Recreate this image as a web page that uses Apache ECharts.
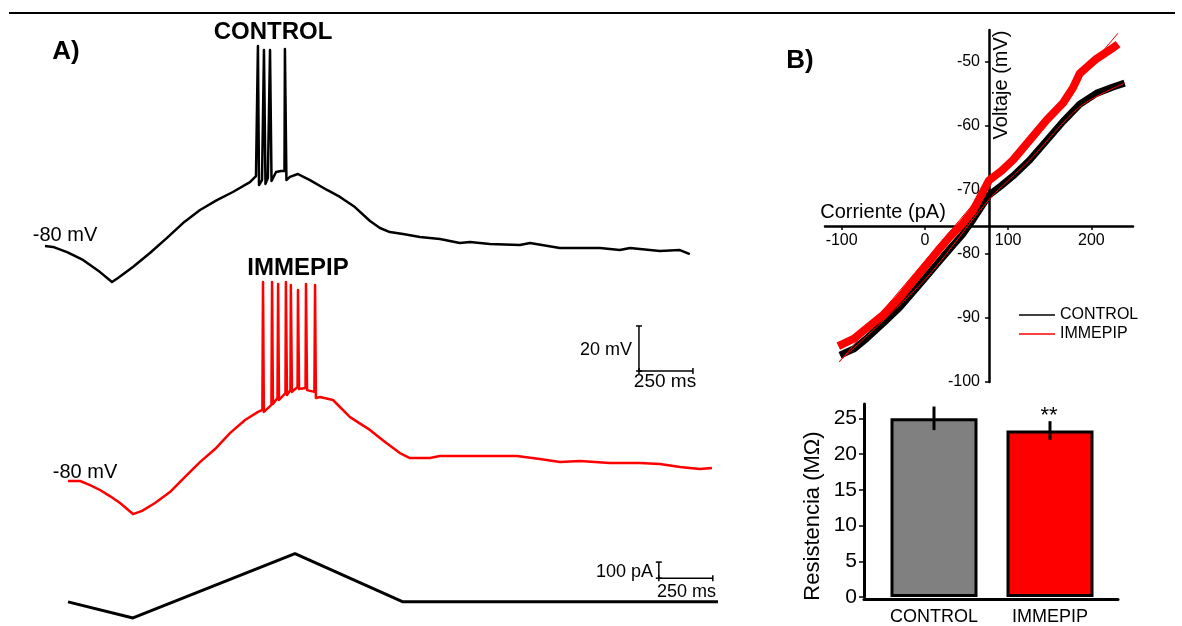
<!DOCTYPE html>
<html>
<head>
<meta charset="utf-8">
<script src="https://cdn.jsdelivr.net/npm/echarts@6/dist/echarts.min.js"></script>
<style>html,body{margin:0;padding:0;background:#fff}#main{width:1182px;height:626px}</style>
</head>
<body>
<div id="main"></div>
<script>
// A) registros: [tiempo ms, voltaje mV]
var controlTrace = [
    [0,-80.0],[37,-80.4],[102,-82.7],[176,-86.2],[255,-91.6],[310,-96.0],[338,-94.2],[407,-89.3],[486,-83.1],
    [565,-76.4],[639,-69.8],[718,-64.0],[796,-59.6],[870,-56.0],[949,-51.6],[977,-48.9],
    [984,-49.3],[986,8.9],[991,-52.9],[1005,-50.7],[1012,-50.4],[1014,7.1],[1021,-52.4],[1032,-49.8],
    [1039,-49.8],[1042,7.1],[1049,-51.1],[1070,-47.1],[1093,-46.7],[1109,-46.7],[1111,7.6],[1118,-50.7],
    [1134,-49.3],[1171,-48.0],[1190,-48.9],[1227,-50.7],[1306,-55.1],[1366,-58.2],[1435,-62.7],[1505,-68.9],
    [1551,-72.0],[1597,-73.8],[1658,-74.7],[1736,-76.0],[1829,-76.9],[1921,-78.7],[1968,-78.2],[2060,-79.1],
    [2199,-79.6],[2246,-78.7],[2384,-80.9],[2570,-80.9],[2662,-81.8],[2709,-80.9],[2847,-82.2],[2940,-81.8],[2986,-83.6]
];
var immepipTrace = [
    [0,-80.0],[56,-80.0],[102,-81.8],[148,-84.0],[194,-86.7],[241,-89.8],[301,-94.7],[343,-93.3],[403,-89.8],
    [472,-84.9],[542,-78.2],[611,-71.6],[681,-65.8],[750,-58.7],[820,-52.9],[880,-49.3],
    [900,-48.4],[903,8.4],[907,-49.3],[926,-47.6],[942,-46.2],[945,8.4],[949,-45.8],[970,-43.1],[973,7.6],
    [977,-44.0],[1007,-40.9],[1009,8.4],[1014,-41.8],[1030,-39.6],[1032,7.1],[1037,-40.4],[1063,-38.2],
    [1065,4.9],[1070,-39.1],[1100,-38.7],[1102,7.6],[1107,-39.6],[1141,-40.4],[1144,7.1],[1148,-43.1],
    [1167,-42.7],[1227,-44.0],[1306,-51.6],[1398,-57.3],[1468,-62.7],[1537,-67.6],[1583,-69.8],[1676,-69.8],
    [1722,-68.9],[1908,-68.9],[2079,-68.9],[2185,-70.2],[2278,-71.6],[2371,-71.1],[2509,-72.0],[2648,-72.0],
    [2741,-72.4],[2834,-73.8],[2926,-74.7],[2982,-74.2]
];
// rampa de corriente [ms, pA]
var rampCurrent = [[0,0],[301,-100],[1051,300],[1551,0],[3010,0]];

// barras de escala: origen y longitudes
var scaleVolt = {t: 2644, v: -31.1, dt: 250, dv: 20};
var scaleCurr = {t: 2736, v: 147, dt: 250, dv: 100};

// B) curva I-V [pA, mV]
var ivControl = [
    [-102,-95.8],[-85,-94.8],[-70,-93.2],[-50,-90.8],[-30,-88.3],[-10,-85.3],[0,-83.8],[15,-81.5],[30,-79.2],
    [45,-77.0],[58,-74.6],[77,-70.8],[92,-69.3],[106,-67.8],[126,-65.3],[146,-62.3],[166,-59.3],[186,-56.6],
    [206,-54.9],[226,-53.9],[240,-53.3]
];
var ivImmepip = [
    [-104,-94.4],[-85,-93.2],[-70,-91.6],[-50,-89.5],[-30,-86.8],[-10,-83.6],[0,-82.0],[15,-79.6],[30,-77.3],
    [45,-75.3],[58,-73.2],[77,-68.5],[92,-67.0],[106,-65.3],[126,-62.2],[146,-59.1],[166,-56.4],[178,-54.0],
    [186,-51.8],[206,-49.5],[226,-47.8],[232,-47.2]
];
var fitControl = [[-103,-96.8],[0,-84.0],[77,-71.5],[126,-65.3],[186,-57.0],[240,-53.3]];
var fitImmepip = [[-103,-96.9],[232,-45.5]];
var ivXTicks = [-100, 0, 100, 200];
var ivYTicks = [-100, -90, -80, -70, -60, -50];

// resistencia de entrada (MOhm)
var groups = ['CONTROL', 'IMMEPIP'];
var resist = [25.0, 23.3];
var resistErr = [1.65, 1.3];
var resTicks = [0, 5, 10, 15, 20, 25];

var FONT = "'Liberation Sans', Arial, sans-serif";
var barColors = ['#808080', '#ff0000'];

function scaleBar(s, grid, capV, capH) {
    return [{
        type: 'line', xAxisIndex: grid, yAxisIndex: grid, silent: true, clip: false,
        data: [[s.t, s.v], [s.t, s.v + s.dv]],
        symbol: 'rect', symbolSize: capV, itemStyle: {color: '#000'},
        lineStyle: {color: '#000', width: 1.5}
    }, {
        type: 'line', xAxisIndex: grid, yAxisIndex: grid, silent: true, clip: false,
        data: [[s.t, s.v], [s.t + s.dt, s.v]],
        symbol: 'rect', symbolSize: capH, itemStyle: {color: '#000'},
        lineStyle: {color: '#000', width: 1.5}
    }];
}

function label(x, y, text, size, extra) {
    var el = {
        type: 'text', x: x, y: y, silent: true,
        style: {text: text, fill: '#000', font: size + 'px ' + FONT, align: 'center', verticalAlign: 'middle'}
    };
    if (extra) {
        for (var k in extra) {
            if (k === 'rotation') el.rotation = extra[k];
            else el.style[k] = extra[k];
        }
    }
    return el;
}

var hiddenX = function (g, max) { return {gridIndex: g, type: 'value', min: 0, max: max, show: false}; };
var hiddenY = function (g, min, max) { return {gridIndex: g, type: 'value', min: min, max: max, show: false}; };

var myChart = echarts.init(document.getElementById('main'));
var option = {
    animation: false,
    backgroundColor: '#fff',
    textStyle: {fontFamily: FONT},
    grid: [
        {left: 45, top: 21, width: 650, height: 270},
        {left: 68, top: 256, width: 650, height: 270},
        {left: 68, top: 545.5, width: 650, height: 85},
        {left: 825, top: 30, width: 308, height: 352},
        {left: 876, top: 404, width: 232, height: 195},
        {left: 864, top: 404, width: 254, height: 195}
    ],
    xAxis: [
        hiddenX(0, 3010),
        hiddenX(1, 3010),
        hiddenX(2, 3010),
        {
            gridIndex: 3, type: 'value', min: -120, max: 250, position: 'bottom', offset: -156,
            axisLine: {onZero: false, lineStyle: {color: '#000', width: 2.5}},
            axisTick: {show: true, customValues: ivXTicks, length: 4, lineStyle: {color: '#000', width: 1.5}},
            axisLabel: {customValues: ivXTicks, color: '#000', fontSize: 16, margin: 7, fontFamily: FONT},
            splitLine: {show: false}
        },
        {
            gridIndex: 4, type: 'category', data: groups,
            axisLine: {show: false}, axisTick: {show: false},
            axisLabel: {color: '#000', fontSize: 18, margin: 11, fontFamily: FONT}
        },
        {
            gridIndex: 5, type: 'value', min: 0, max: 1,
            axisLine: {show: true, onZero: false, lineStyle: {color: '#000', width: 3}},
            axisTick: {show: false}, axisLabel: {show: false}, splitLine: {show: false}
        }
    ],
    yAxis: [
        hiddenY(0, -100, 20),
        hiddenY(1, -100, 20),
        hiddenY(2, -150, 350),
        {
            gridIndex: 3, type: 'value', min: -100, max: -45, position: 'left', offset: -164,
            axisLine: {onZero: false, lineStyle: {color: '#000', width: 2.5}},
            axisTick: {show: true, customValues: ivYTicks, length: 4, lineStyle: {color: '#000', width: 1.5}},
            axisLabel: {customValues: ivYTicks, color: '#000', fontSize: 16, margin: 9, fontFamily: FONT},
            splitLine: {show: false}
        },
        {
            gridIndex: 4, type: 'value', min: 0, max: 27, position: 'left', offset: 12,
            axisLine: {show: true, onZero: false, lineStyle: {color: '#000', width: 3}},
            axisTick: {show: true, customValues: resTicks, length: 5, lineStyle: {color: '#000', width: 1.5}},
            axisLabel: {customValues: resTicks, color: '#000', fontSize: 21, margin: 7, fontFamily: FONT},
            splitLine: {show: false}
        },
        {gridIndex: 5, type: 'value', min: 0, max: 1, show: false}
    ],
    legend: {
        data: ['CONTROL', 'IMMEPIP'],
        orient: 'vertical', left: 1014, top: 302,
        icon: 'rect', itemWidth: 36, itemHeight: 1.5, itemGap: 3,
        textStyle: {fontSize: 16, color: '#000', fontFamily: FONT, padding: [0, 0, 0, 0]},
        selectedMode: false
    },
    series: [
        {type: 'line', name: 'control', xAxisIndex: 0, yAxisIndex: 0, data: controlTrace, showSymbol: false, symbol: 'none',
            lineStyle: {color: '#000', width: 2.5, join: 'round'}},
        {type: 'line', name: 'immepip', xAxisIndex: 1, yAxisIndex: 1, data: immepipTrace, showSymbol: false, symbol: 'none',
            lineStyle: {color: '#ff0000', width: 2.5, join: 'round'}},
        {type: 'line', name: 'corriente', xAxisIndex: 2, yAxisIndex: 2, data: rampCurrent, showSymbol: false, symbol: 'none',
            lineStyle: {color: '#000', width: 3}},

        // curva I-V
        {type: 'line', name: 'CONTROL', xAxisIndex: 3, yAxisIndex: 3, data: ivControl, symbol: 'none', color: '#000',
            lineStyle: {color: '#000', width: 7}},
        {type: 'line', name: 'IMMEPIP', xAxisIndex: 3, yAxisIndex: 3, data: ivImmepip, symbol: 'none', color: '#ff0000',
            lineStyle: {color: '#ff0000', width: 8}},
        {type: 'line', name: 'ajuste control', xAxisIndex: 3, yAxisIndex: 3, data: fitControl, symbol: 'none', smooth: 0.3,
            lineStyle: {color: '#ff0000', width: 1}},
        {type: 'line', name: 'ajuste immepip', xAxisIndex: 3, yAxisIndex: 3, data: fitImmepip, symbol: 'none',
            lineStyle: {color: '#ff0000', width: 1}},

        // resistencia
        {type: 'bar', xAxisIndex: 4, yAxisIndex: 4, barWidth: 87,
            data: resist.map(function (v, i) { return {value: v, itemStyle: {color: barColors[i]}}; }),
            itemStyle: {borderColor: '#000', borderWidth: 3}},
        {type: 'custom', xAxisIndex: 4, yAxisIndex: 4, z: 10,
            data: resist.map(function (v, i) { return [i, v - resistErr[i], v + resistErr[i]]; }),
            renderItem: function (params, api) {
                var lo = api.coord([api.value(0), api.value(1)]);
                var hi = api.coord([api.value(0), api.value(2)]);
                return {type: 'line', shape: {x1: lo[0], y1: lo[1], x2: hi[0], y2: hi[1]},
                    style: {stroke: '#000', lineWidth: 3}};
            }}
    ].concat(scaleBar(scaleVolt, 1, [6, 1.5], [1.5, 6]), scaleBar(scaleCurr, 2, [6, 1.5], [1.5, 6])),
    graphic: [
        {type: 'line', silent: true, shape: {x1: 9, y1: 13, x2: 1175, y2: 13}, style: {stroke: '#000', lineWidth: 2}},
        label(66, 52, 'A)', 'bold 26'),
        label(800, 61, 'B)', 'bold 26'),
        label(273, 32, 'CONTROL', 'bold 24'),
        label(298, 268, 'IMMEPIP', 'bold 24'),
        label(65, 235, '-80 mV', 20),
        label(85, 472, '-80 mV', 20),
        label(632, 350, '20 mV', 18, {align: 'right'}),
        label(665, 382, '250 ms', 19),
        label(653, 572, '100 pA', 18, {align: 'right'}),
        label(657, 592, '250 ms', 18, {align: 'left'}),
        label(883, 212, 'Corriente (pA)', 20),
        label(1001, 85, 'Voltaje (mV)', 20, {rotation: Math.PI / 2}),
        label(813, 516, 'Resistencia (MΩ)', 22, {rotation: Math.PI / 2}),
        label(1049, 416, '**', 22)
    ]
};
if (option && typeof option === "object") {
    myChart.setOption(option, true);
}
</script>
</body>
</html>
